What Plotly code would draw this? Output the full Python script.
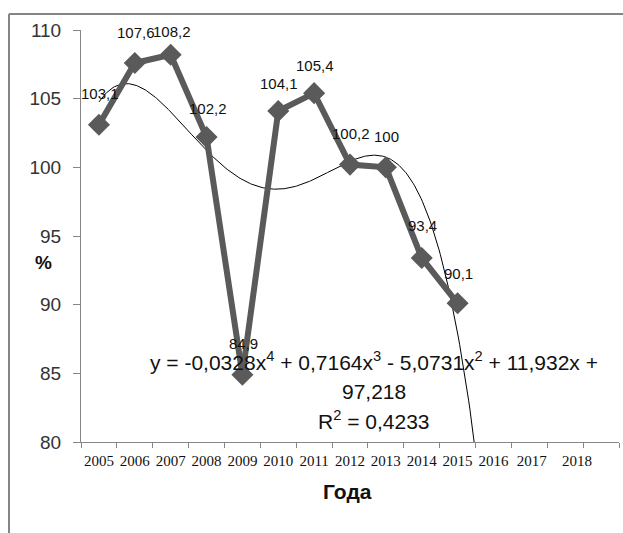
import numpy as np
import plotly.graph_objects as go

# ---- data ----
years = [2005, 2006, 2007, 2008, 2009, 2010, 2011, 2012, 2013, 2014, 2015]
values = [103.1, 107.6, 108.2, 102.2, 84.9, 104.1, 105.4, 100.2, 100, 93.4, 90.1]
axis_years = ["2005", "2006", "2007", "2008", "2009", "2010", "2011", "2012",
              "2013", "2014", "2015", "2016", "2017", "2018"]
trend_coefs = [-0.0328, 0.7164, -5.0731, 11.932, 97.218]   # 4th order poly, x = 1..n
r_squared = 0.4233

# ---- layout geometry (pixels) ----
W, H = 623, 533
L, R, T, B = 81, 4, 30, 91
PW, PH = W - L - R, H - T - B


def px(x):
    return (x - L) / PW


def py(y):
    return (H - B - y) / PH


GRAY = "#5a5a5a"
AXIS = "#868686"

fig = go.Figure()

# trendline from displayed equation
t = np.linspace(1, 11.7, 300)
fig.add_trace(go.Scatter(
    x=t + years[0] - 1, y=np.polyval(trend_coefs, t), mode="lines",
    line=dict(color="black", width=1), hoverinfo="skip", showlegend=False))

# data series
fig.add_trace(go.Scatter(
    x=years, y=values, mode="lines+markers",
    line=dict(color=GRAY, width=6),
    marker=dict(symbol="diamond", size=17, color=GRAY),
    showlegend=False))

# data labels
label_shift = [31, 30, 23, 29, 31, 28, 28, 31, 31, 32, 30]
for yr, v, s in zip(years, values, label_shift):
    fig.add_annotation(x=yr, y=v, text=f"{v:g}".replace(".", ","),
                       showarrow=False, yshift=s, xshift=1,
                       font=dict(family="Liberation Sans", size=15, color="#111"))

# tick label positions (2017/2018 slightly displaced as in the original)
tick_pos = [int(a) for a in axis_years]
tick_pos[-2] += 0.07
tick_pos[-1] += 0.33

fig.update_xaxes(
    range=[2004.5, 2019.5], showgrid=False, zeroline=False,
    showline=True, linecolor=AXIS, linewidth=1,
    tickmode="array", tickvals=tick_pos, ticktext=axis_years, ticks="",
    tickfont=dict(family="Liberation Serif", size=15, color="#111"),
    ticklabelstandoff=5,
    minor=dict(tickmode="linear", tick0=2004.5, dtick=1, ticks="outside",
               ticklen=5, tickcolor=AXIS, tickwidth=1, showgrid=False))
fig.update_yaxes(
    range=[80, 110], showgrid=False, zeroline=False,
    showline=True, linecolor=AXIS, linewidth=1,
    tickmode="array", tickvals=[80, 85, 90, 95, 100, 105, 110],
    ticks="outside", ticklen=7, tickcolor=AXIS,
    tickfont=dict(family="Liberation Sans", size=19, color="#333"),
    ticklabelstandoff=8)

# equation of trend
eq1 = ("y = -0,0328x<sup>4</sup> + 0,7164x<sup>3</sup> - 5,0731x<sup>2</sup>"
       " + 11,932x +")
eq_font = dict(family="Liberation Sans", size=21, color="#111")
for txt, yy in [(eq1, 361), ("97,218", 391),
                (f"R<sup>2</sup> = {r_squared:g}".replace(".", ","), 420)]:
    fig.add_annotation(xref="paper", yref="paper", x=px(374), y=py(yy),
                       text=txt, showarrow=False, font=eq_font,
                       xanchor="center", yanchor="middle")

# axis titles
fig.add_annotation(xref="paper", yref="paper", x=px(33), y=py(262), text="<b>%</b>",
                   showarrow=False, font=dict(family="Liberation Sans", size=19, color="#111"))
fig.add_annotation(xref="paper", yref="paper", x=px(347), y=py(505), text="<b>Года</b>",
                   showarrow=False, font=dict(family="Liberation Sans", size=21, color="#111"))

# chart area border
fig.add_shape(type="line", xref="paper", yref="paper", x0=px(9), x1=px(640), y0=py(14), y1=py(14),
              line=dict(color="#858585", width=2))
fig.add_shape(type="line", xref="paper", yref="paper", x0=px(9), x1=px(9), y0=py(14), y1=py(560),
              line=dict(color="#858585", width=2))

fig.update_layout(width=W, height=H, margin=dict(l=L, r=R, t=T, b=B),
                  plot_bgcolor="white", paper_bgcolor="white", showlegend=False)

fig.write_html("out.html", config={"displayModeBar": False},
               post_script="document.body.style.margin='0';document.body.style.overflow='hidden';")
